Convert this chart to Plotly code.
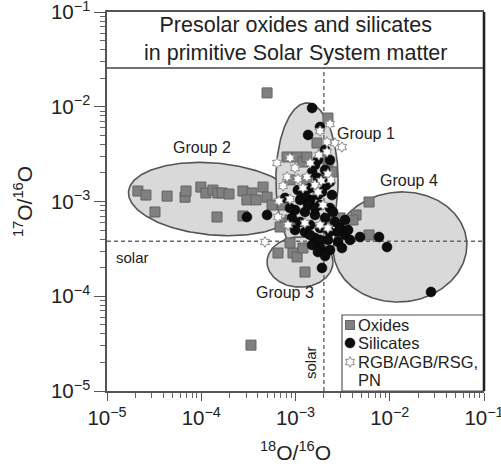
import numpy as np
import plotly.graph_objects as go

# ---------------- data ----------------
# Presolar oxide grains: 18O/16O and 17O/16O
oxide_o18 = [2.13e-5, 2.59e-5, 3.23e-5, 4.34e-5, 6.73e-5, 6.89e-5, 9.9e-5, 1.12e-4, 1.33e-4, 1.50e-4,
             1.66e-4, 1.97e-4, 2.77e-4, 3.45e-4, 3.05e-4, 1.47e-4, 2.77e-4, 4.52e-4, 3.81e-4, 4.99e-4,
             5.64e-4, 4.99e-4, 2.21e-3, 1.69e-3, 8.13e-4, 1.04e-3, 1.20e-3, 1.32e-3, 1.96e-3, 2.21e-3,
             2.44e-3, 1.32e-3, 8.75e-4, 1.17e-3, 7.75e-4, 6.86e-4, 2.50e-3, 2.97e-3, 6.52e-4, 9.40e-4,
             1.04e-3, 1.20e-3, 1.26e-3, 8.75e-4, 6.03e-3, 4.39e-3, 4.07e-3, 6.03e-3, 3.37e-4, 7.37e-4,
             8.75e-4]
oxide_o17 = [1.29e-3, 1.17e-3, 7.75e-4, 1.14e-3, 1.11e-3, 1.29e-3, 1.42e-3, 1.23e-3, 1.32e-3, 1.23e-3,
             1.23e-3, 1.20e-3, 1.29e-3, 1.23e-3, 1.04e-3, 6.86e-4, 7.03e-4, 1.42e-3, 1.04e-3, 1.11e-3,
             9.18e-4, 1.40e-2, 7.60e-3, 4.14e-3, 2.95e-3, 2.95e-3, 2.61e-3, 2.95e-3, 3.10e-3, 2.61e-3,
             2.05e-3, 1.69e-3, 1.69e-3, 1.17e-3, 5.93e-4, 5.38e-4, 6.70e-4, 6.70e-4, 2.86e-4, 2.86e-4,
             2.60e-4, 3.23e-4, 1.80e-4, 3.65e-4, 9.88e-4, 7.21e-4, 6.38e-4, 4.43e-4, 3.05e-5, 9.18e-4,
             6.38e-4]

# Presolar silicate grains
silicate_o18 = [1.50e-3, 1.36e-3, 1.82e-3, 3.05e-4, 4.99e-4, 4.83e-3, 7.69e-3, 9.35e-3, 2.74e-2, 1.91e-3,
                1.82e-3, 2.06e-3, 2.06e-3, 1.73e-3, 2.32e-3, 1.61e-3, 2.06e-3, 2.32e-3, 1.73e-3, 1.43e-3,
                1.91e-3, 2.44e-3, 1.12e-3, 1.43e-3, 1.82e-3, 2.32e-3, 9.89e-4, 1.26e-3, 1.61e-3, 2.06e-3,
                2.62e-3, 1.12e-3, 1.43e-3, 1.82e-3, 2.32e-3, 2.97e-3, 3.35e-3, 3.79e-3, 2.83e-3, 2.21e-3,
                1.61e-3, 1.26e-3, 9.89e-4, 7.75e-4, 8.75e-4, 1.50e-3, 1.73e-3, 2.32e-3, 3.11e-3, 1.36e-3,
                1.06e-3, 1.73e-3, 2.11e-3, 2.50e-3, 1.50e-3, 3.35e-3, 3.61e-3, 1.91e-3, 1.26e-3, 1.61e-3,
                2.06e-3, 2.83e-3, 9.18e-4, 1.82e-3, 1.43e-3, 2.06e-3]
silicate_o17 = [9.70e-3, 5.04e-3, 6.11e-3, 6.86e-4, 7.21e-4, 4.22e-4, 4.22e-4, 3.31e-4, 1.11e-4, 1.99e-4,
                3.23e-4, 2.86e-4, 3.50e-3, 2.74e-3, 2.74e-3, 2.43e-3, 2.15e-3, 1.61e-3, 1.77e-3, 1.39e-3,
                1.26e-3, 1.17e-3, 1.04e-3, 1.04e-3, 9.18e-4, 8.54e-4, 8.13e-4, 7.75e-4, 7.21e-4, 6.70e-4,
                6.08e-4, 6.08e-4, 5.65e-4, 5.25e-4, 4.76e-4, 5.25e-4, 4.43e-4, 3.93e-4, 3.74e-4, 3.93e-4,
                4.12e-4, 4.76e-4, 5.00e-4, 1.09e-3, 8.54e-4, 3.48e-4, 2.93e-4, 3.08e-4, 3.23e-4, 9.18e-4,
                1.32e-3, 1.17e-3, 1.49e-3, 7.75e-4, 2.05e-3, 6.38e-4, 5.00e-4, 1.69e-3, 1.17e-3, 8.54e-4,
                5.25e-4, 4.76e-4, 6.70e-4, 3.93e-4, 4.43e-4, 2.66e-4]

# RGB/AGB/RSG and PN stellar observations
star_o18 = [2.32e-3, 1.82e-3, 2.16e-3, 2.62e-3, 3.11e-3, 2.16e-3, 1.77e-3, 6.37e-4, 8.75e-4, 9.89e-4,
            1.43e-3, 8.13e-4, 1.06e-3, 1.32e-3, 2.21e-3, 1.87e-3, 7.37e-4, 1.20e-3, 1.61e-3, 6.68e-4,
            8.75e-4, 1.96e-3, 1.26e-3, 8.32e-4, 6.52e-4, 1.82e-3, 2.21e-3, 4.74e-4, 1.73e-3, 2.38e-3]
star_o17 = [6.58e-3, 5.55e-3, 4.25e-3, 4.14e-3, 3.76e-3, 3.33e-3, 3.10e-3, 2.55e-3, 2.88e-3, 2.26e-3,
            2.55e-3, 1.82e-3, 1.73e-3, 1.82e-3, 1.95e-3, 1.65e-3, 1.46e-3, 1.39e-3, 1.49e-3, 1.01e-3,
            1.06e-3, 9.18e-4, 5.93e-4, 5.65e-4, 6.86e-4, 5.65e-4, 5.25e-4, 3.74e-4, 1.26e-3, 1.69e-3]

SOLAR_O18 = 2.0e-3
SOLAR_O17 = 3.8e-4

tick_vals = [1e-5, 1e-4, 1e-3, 1e-2, 1e-1]
tick_text = ["10<sup>−5</sup>", "10<sup>−4</sup>", "10<sup>−3</sup>", "10<sup>−2</sup>", "10<sup>−1</sup>"]
minor_vals = [k * 10.0 ** e for e in range(-5, -1) for k in range(2, 10)]

# group ellipses: log10 centre (x, y), semi-axes (decades), tilt (deg)
group_names = ["Group 2", "Group 1", "Group 3", "Group 4"]
group_cx = [-3.865, -2.878, -2.952, -1.891]
group_cy = [-2.974, -2.773, -3.639, -3.480]
group_a = [0.91, 0.33, 0.35, 0.71]
group_b = [0.38, 0.813, 0.265, 0.58]
group_tilt = [-5, 0, 0, 5]

FONT = "Liberation Sans, Arial, sans-serif"
W, H = 501, 468
ML, MR, MT, MB = 107, 17, 12, 77


def px2paper(px, py):
    return (px - ML) / (W - ML - MR), (H - MB - py) / (H - MT - MB)


fig = go.Figure()

# ellipses
for nm, cx, cy, a, b, tl in zip(group_names, group_cx, group_cy, group_a, group_b, group_tilt):
    t = np.linspace(0, 2 * np.pi, 240)
    th = np.deg2rad(tl)
    lx = cx + a * np.cos(t) * np.cos(th) - b * np.sin(t) * np.sin(th)
    ly = cy + a * np.cos(t) * np.sin(th) + b * np.sin(t) * np.cos(th)
    fig.add_trace(go.Scatter(x=10 ** lx, y=10 ** ly, mode="lines", fill="toself",
                             fillcolor="#d9d9d9", line=dict(color="#555555", width=1.6),
                             showlegend=False, hoverinfo="skip"))

# solar reference lines
fig.add_trace(go.Scatter(x=[1e-5, 1e-1], y=[SOLAR_O17, SOLAR_O17], mode="lines",
                         line=dict(color="#666666", width=1.4, dash="4px,3px"),
                         showlegend=False, hoverinfo="skip"))
fig.add_trace(go.Scatter(x=[SOLAR_O18, SOLAR_O18], y=[1e-5, 2.56e-2], mode="lines",
                         line=dict(color="#666666", width=1.4, dash="4px,3px"),
                         showlegend=False, hoverinfo="skip"))

oxide_marker = dict(symbol="square", size=10, color="#808080", line=dict(color="#626262", width=1))
sil_marker = dict(symbol="circle", size=10, color="#0d0d0d", line=dict(color="#000000", width=0.5))
star_marker = dict(symbol="hexagram", size=8, color="#ffffff", line=dict(color="#8c8c8c", width=1))

fig.add_trace(go.Scatter(x=oxide_o18, y=oxide_o17, mode="markers", name="Oxides",
                         marker=oxide_marker, showlegend=False))
fig.add_trace(go.Scatter(x=silicate_o18, y=silicate_o17, mode="markers", name="Silicates",
                         marker=sil_marker, showlegend=False))
fig.add_trace(go.Scatter(x=star_o18, y=star_o17, mode="markers", name="RGB/AGB/RSG, PN",
                         marker=star_marker, showlegend=False))

# custom legend (on an overlay 0..1 axis)
leg_labels = ["Oxides", "Silicates", "RGB/AGB/RSG,"]
leg_markers = [dict(oxide_marker, size=9), sil_marker, star_marker]
leg_rows_py = [325, 343, 362]
for lab, mk, py in zip(leg_labels, leg_markers, leg_rows_py):
    mx, my = px2paper(350, py)
    fig.add_trace(go.Scatter(x=[mx], y=[my], mode="markers", marker=mk, xaxis="x2", yaxis="y2",
                             showlegend=False, hoverinfo="skip"))

annotations = []
for lab, py in zip(leg_labels + ["PN"], leg_rows_py + [380]):
    tx, ty = px2paper(356, py)
    annotations.append(dict(text=lab, x=tx, y=ty, xref="paper", yref="paper", xanchor="left",
                            yanchor="middle", showarrow=False, font=dict(size=16.5, color="#222")))

# group labels
for lab, (px, py) in zip(["Group 2", "Group 1", "Group 3", "Group 4"],
                         [(202, 147), (366, 133), (285, 292), (409, 181)]):
    ax_, ay_ = px2paper(px, py)
    annotations.append(dict(text=lab, x=ax_, y=ay_, xref="paper", yref="paper", showarrow=False,
                            xanchor="center", yanchor="middle", font=dict(size=16, color="#222")))

sx, sy = px2paper(132, 257)
annotations.append(dict(text="solar", x=sx, y=sy, xref="paper", yref="paper", showarrow=False,
                        xanchor="center", yanchor="middle", font=dict(size=15, color="#222")))
sx, sy = px2paper(310, 363)
annotations.append(dict(text="solar", x=sx, y=sy, xref="paper", yref="paper", showarrow=False,
                        xanchor="center", yanchor="middle", textangle=-90,
                        font=dict(size=15, color="#222")))

tx, ty = px2paper(295, 39)
annotations.append(dict(text="Presolar oxides and silicates<br>in primitive Solar System matter",
                        x=tx, y=ty, xref="paper", yref="paper", showarrow=False,
                        xanchor="center", yanchor="middle",
                        font=dict(size=21.5, color="#222")))

box_y = px2paper(0, 68)[1]
lx0, ly1 = px2paper(342, 315)
shapes = [
    dict(type="line", xref="paper", yref="paper", x0=0, x1=1, y0=box_y, y1=box_y,
         line=dict(color="#444", width=1.4)),
    dict(type="line", xref="paper", yref="paper", x0=1, x1=1, y0=0, y1=1,
         line=dict(color="#222", width=2.6)),
    dict(type="rect", xref="paper", yref="paper", x0=lx0, x1=1, y0=0, y1=ly1,
         line=dict(color="#555", width=1.2), fillcolor="white", layer="below"),
]

axis_common = dict(type="log", range=[-5, -1], tickvals=tick_vals, ticktext=tick_text,
                   showgrid=False, zeroline=False, showline=True, linecolor="#555", linewidth=1.5,
                   ticks="outside", tickcolor="#555", tickwidth=1.2, ticklabeloverflow="allow",
                   automargin=False, tickfont=dict(size=20.5, color="#222"),
                   minor=dict(tickvals=minor_vals, ticks="outside", ticklen=5, tickcolor="#666",
                              tickwidth=1))

fig.update_layout(
    width=W, height=H, margin=dict(l=ML, r=MR, t=MT, b=MB, autoexpand=False),
    paper_bgcolor="white", plot_bgcolor="white",
    font=dict(family=FONT, color="#222"),
    xaxis=dict(**axis_common, ticklen=8, mirror=True,
               title=dict(text="<sup>18</sup>O/<sup>16</sup>O", font=dict(size=21), standoff=17)),
    yaxis=dict(**axis_common, ticklen=11,
               title=dict(text="<sup>17</sup>O/<sup>16</sup>O", font=dict(size=21), standoff=13)),
    xaxis2=dict(overlaying="x", range=[0, 1], visible=False, fixedrange=True),
    yaxis2=dict(overlaying="y", range=[0, 1], visible=False, fixedrange=True),
    annotations=annotations, shapes=shapes, showlegend=False,
)

fig.write_html("out.html")
